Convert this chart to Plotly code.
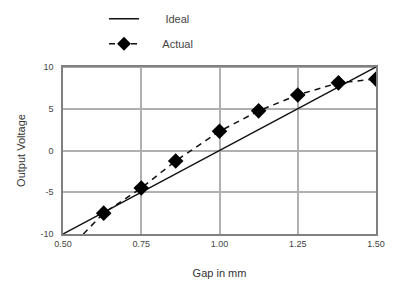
import plotly.graph_objects as go

ideal_x = [0.5, 1.5]
ideal_y = [-10, 10]

actual_x = [0.565, 0.63, 0.75, 0.86, 1.0, 1.125, 1.25, 1.38, 1.5]
actual_y = [-10, -7.5, -4.5, -1.25, 2.3, 4.75, 6.65, 8.1, 8.55]
actual_marker = [0, 1, 1, 1, 1, 1, 1, 1, 1]

x_ticks = [0.5, 0.75, 1.0, 1.25, 1.5]
x_labels = ["0.50", "0.75", "1.00", "1.25", "1.50"]
y_ticks = [-10, -5, 0, 5, 10]
y_labels = ["-10", "-5", "0", "5", "10"]

# gridlines that appear darker/thinner in the original
dark_grid_x = [1.0, 1.25]
dark_grid_y = [5, 10]

NB = "\u00a0"
font = dict(family="Liberation Sans, Arial, sans-serif", size=10, color="#333333")

fig = go.Figure()
fig.add_trace(go.Scatter(
    x=ideal_x, y=ideal_y, mode="lines", name=NB * 7 + "Ideal",
    line=dict(color="#111111", width=1.5), legendgroup="a",
))
fig.add_trace(go.Scatter(
    x=actual_x, y=actual_y, mode="lines+markers", name=NB * 6 + "Actual",
    line=dict(color="#111111", width=1.5, dash="6px,5px"),
    marker=dict(symbol="diamond", color="#000000", opacity=1,
                size=[12 * m for m in actual_marker],
                line=dict(width=0)),
    legendgroup="b",
))

for gx in dark_grid_x:
    fig.add_shape(type="line", xref="x", yref="paper", x0=gx, x1=gx, y0=0, y1=1,
                  line=dict(color="#555555", width=1), layer="below")
for gy in dark_grid_y:
    fig.add_shape(type="line", xref="paper", yref="y", x0=0, x1=1, y0=gy, y1=gy,
                  line=dict(color="#555555", width=1), layer="below")

fig.update_layout(
    width=389, height=278,
    margin=dict(l=55, r=21, t=59, b=52, autoexpand=False),
    paper_bgcolor="white", plot_bgcolor="white",
    font=font,
    showlegend=True,
    legend=dict(x=0.131, y=1.376, xanchor="left", yanchor="top",
                bgcolor="rgba(0,0,0,0)", tracegroupgap=6,
                font=dict(size=11, color="#444444")),
    xaxis=dict(
        range=[0.5, 1.5], tickvals=x_ticks, ticktext=x_labels,
        showgrid=True, gridcolor="#b0b0b0", gridwidth=2,
        showline=True, linecolor="#808080", linewidth=1.5, mirror=True,
        zeroline=False, ticks="", tickfont=dict(size=9, color="#444444"),
        title=dict(text="Gap in mm", font=dict(size=11, color="#333333"), standoff=22),
    ),
    yaxis=dict(
        range=[-10, 10], tickvals=y_ticks, ticktext=y_labels,
        showgrid=True, gridcolor="#b0b0b0", gridwidth=2,
        showline=True, linecolor="#808080", linewidth=1.5, mirror=True,
        zeroline=False, ticks="", tickfont=dict(size=9, color="#444444"),
        ticklabelstandoff=6,
        title=dict(text="Output Voltage", font=dict(size=11, color="#333333"), standoff=13),
    ),
)

fig.write_html("out.html")
